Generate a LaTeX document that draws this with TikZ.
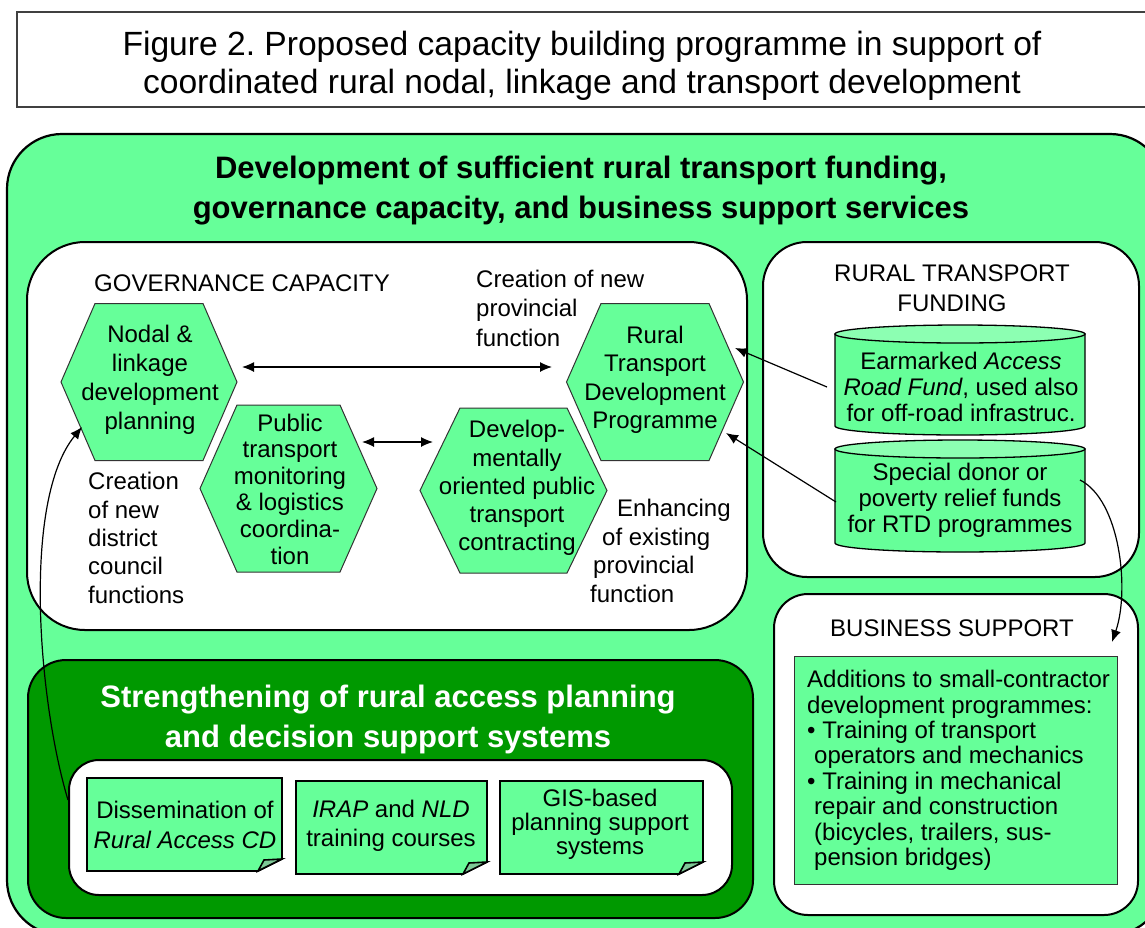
\documentclass[tikz,border=0pt]{standalone}
\usepackage{fontspec}
\setmainfont{Liberation Sans}
\usetikzlibrary{arrows.meta,calc}
\frenchspacing
\definecolor{lgreen}{RGB}{102,255,153}
\definecolor{cyltop}{RGB}{140,255,178}
\definecolor{dgreen}{RGB}{0,153,0}
\definecolor{foldc}{RGB}{125,200,150}
\newcommand\fsz[2]{\fontsize{#1}{#2}\selectfont}
% hexagon: name, cx, cy, half width, half height, half top edge
\newcommand\hexagonpath[6]{%
  \path[hexst] (#2-#4,#3) coordinate (#1-w) -- (#2-#6,#3-#5) -- (#2+#6,#3-#5)
    -- (#2+#4,#3) coordinate (#1-e) -- (#2+#6,#3+#5) -- (#2-#6,#3+#5) -- cycle;}
% cylinder: left, right, top-ellipse y, bottom-ellipse y
\newcommand\cylinderpath[4]{%
  \path[cylst] (#1,#3) -- (#1,#4)
    .. controls (#1,#4+5) and ({(#1+#2)/2-0.552*(#2-#1)/2},#4+9) .. ({(#1+#2)/2},#4+9)
    .. controls ({(#1+#2)/2+0.552*(#2-#1)/2},#4+9) and (#2,#4+5) .. (#2,#4)
    -- (#2,#3) -- cycle;
  \path[cylst,fill=cyltop] ({(#1+#2)/2},#3) ellipse [x radius={(#2-#1)/2*1pt}, y radius=9pt];}
% document with folded corner: left, top, right, bottom
\newcommand\docpath[4]{%
  \path[docst] (#1,#2) -- (#3,#2) -- (#3,#4-12) -- (#3-24,#4) -- (#1,#4) -- cycle;
  \path[docst,fill=foldc] (#3,#4-12) -- (#3-18,#4-11) -- (#3-24,#4) -- cycle;}
\begin{document}
\begin{tikzpicture}[x=1pt,y=-1pt,
  panel/.style={draw=black,line width=2pt,fill=white},
  hexst/.style={draw=black!80,line width=1pt,fill=lgreen},
  cylst/.style={draw=black,line width=1.3pt,fill=lgreen},
  docst/.style={draw=black,line width=1.6pt,fill=lgreen},
  txt/.style={font=\fsz{24}{28},align=center,inner sep=0pt},
  arr/.style={-{Latex[length=12pt,width=10pt]},line width=1.2pt},
  darr/.style={{Latex[length=12pt,width=10pt]}-{Latex[length=12pt,width=10pt]},line width=1.2pt}]
\useasboundingbox (0,0) rectangle (1145,927);
\clip (0,0) rectangle (1145,927);
\fill[white] (0,0) rectangle (1145,927);

% title
\draw[draw=black!75,line width=1.5pt,fill=white] (17,12) rectangle (1175,107);
\node[font=\fsz{33.6}{37.5},align=center,inner sep=0pt] (title) at (582,66)
  {Figure 2. Proposed capacity building programme in support of\\coordinated rural nodal, linkage and transport development};

% outer green area
\draw[line width=2.2pt,fill=lgreen,rounded corners=55pt] (7,134) rectangle (1165,935);
\node[font=\bfseries\fsz{31}{40},align=center,inner sep=0pt] (head) at (581,191)
  {Development of sufficient rural transport funding,\\governance capacity, and business support services};

% panels
\draw[panel,rounded corners=58pt] (27,242) rectangle (747,630);
\draw[panel,rounded corners=44pt] (763,242) rectangle (1139,577);
\draw[panel,rounded corners=34pt] (774,594) rectangle (1138,915);

% dark green section
\draw[line width=2pt,fill=dgreen,rounded corners=38pt] (28,660) rectangle (753,918);
\node[font=\bfseries\fsz{31}{40},text=white,align=center,inner sep=0pt] (strength) at (388,719)
  {Strengthening of rural access planning\\and decision support systems};
\draw[panel,rounded corners=30pt] (69,760) rectangle (732,895);

% documents
\docpath{87}{778}{282}{871}
\docpath{296}{781}{487}{874}
\docpath{500}{781}{703}{874}
\node[txt,font=\fsz{24}{30}] (doc1) at (185,825) {Dissemination of\\\textit{Rural Access CD}};
\node[txt,font=\fsz{24}{29}] (doc2) at (391,826) {\textit{IRAP} and \textit{NLD}\\training courses};
\node[txt,font=\fsz{24}{24}] (doc3) at (600,824) {GIS-based\\planning support\\systems};

% governance capacity
\node[txt,font=\fsz{24}{28}] (govlbl) at (242,283) {GOVERNANCE CAPACITY};
\node[txt,align=left,anchor=west,font=\fsz{24}{29.5}] (provnew) at (476,308) {Creation of new\\provincial\\function};
\node[txt,align=left,anchor=west,font=\fsz{24}{28.3}] (district) at (88,538) {Creation\\of new\\district\\council\\functions};
\node[txt,align=left,anchor=west,font=\fsz{24}{28.5}] (enhance) at (590,551)
  {\hspace*{27pt}Enhancing\\\hspace*{12pt}of existing\\\hspace*{3pt}provincial\\function};

\hexagonpath{nodal}{149}{382}{88}{78.5}{54}
\hexagonpath{pt}{288.5}{488.5}{88.5}{83.5}{51.5}
\hexagonpath{dev}{513.5}{490.5}{93.5}{82.5}{53.5}
\hexagonpath{rtdp}{655}{382}{88.5}{78.5}{54}

\node[txt,font=\fsz{24}{29}] (nodaltxt) at (150,380) {Nodal \&\\linkage\\development\\planning};
\node[txt,font=\fsz{24}{26.6}] (pttxt) at (290,489) {Public\\transport\\monitoring\\\& logistics\\coordina-\\tion};
\node[txt,font=\fsz{24}{28.2}] (devtxt) at (517,488) {Develop-\\mentally\\oriented public\\transport\\contracting};
\node[txt,font=\fsz{24}{28.5}] (rtdptxt) at (655,380) {Rural\\Transport\\Development\\Programme};

% rural transport funding
\node[txt,font=\fsz{24}{30}] (rtflbl) at (952,288) {RURAL TRANSPORT\\FUNDING};
\cylinderpath{835}{1085}{334}{426}
\cylinderpath{835}{1085}{449}{543}
\node[txt,font=\fsz{24}{26}] (cyl1) at (961,387) {Earmarked \textit{Access}\\\textit{Road Fund}, used also\\for off-road infrastruc.};
\node[txt,font=\fsz{24}{26}] (cyl2) at (960,500) {Special donor or\\poverty relief funds\\for RTD programmes};

% business support
\node[txt,font=\fsz{24}{28}] (buslbl) at (952,628) {BUSINESS SUPPORT};
\draw[draw=black!80,line width=1pt,fill=lgreen] (794,656) rectangle (1117,884);
\node[txt,align=left,anchor=north west,font=\fsz{24}{25.4}] (bustxt) at (807,670)
  {Additions to small-contractor\\development programmes:\\• Training of transport\\\hspace*{7pt}operators and mechanics\\• Training in mechanical\\\hspace*{7pt}repair and construction\\\hspace*{7pt}(bicycles, trailers, sus-\\\hspace*{7pt}pension bridges)};

% connectors
\coordinate (nodalR) at (242,367);
\coordinate (rtdpL) at (552,367);
\coordinate (ptR) at (362,442);
\coordinate (devL) at (433,442);
\coordinate (cyl1L) at (827,387);
\coordinate (rtdpR1) at (735,348);
\coordinate (cyl2L) at (836,502);
\coordinate (rtdpR2) at (726,433);
\coordinate (cyl2R) at (1080,480);
\coordinate (busT) at (1112,642);
\coordinate (doc1L) at (68,800);
\coordinate (nodalB) at (82,427);

\draw[darr] (nodalR) -- (rtdpL);
\draw[darr] (ptR) -- (devL);
\draw[arr] (cyl1L) -- (rtdpR1);
\draw[arr] (cyl2L) -- (rtdpR2);
\draw[arr] (cyl2R) .. controls (1120,500) and (1130,590) .. (busT);
\draw[arr] (doc1L) .. controls (38,700) and (22,500) .. (nodalB);
\end{tikzpicture}
\end{document}
